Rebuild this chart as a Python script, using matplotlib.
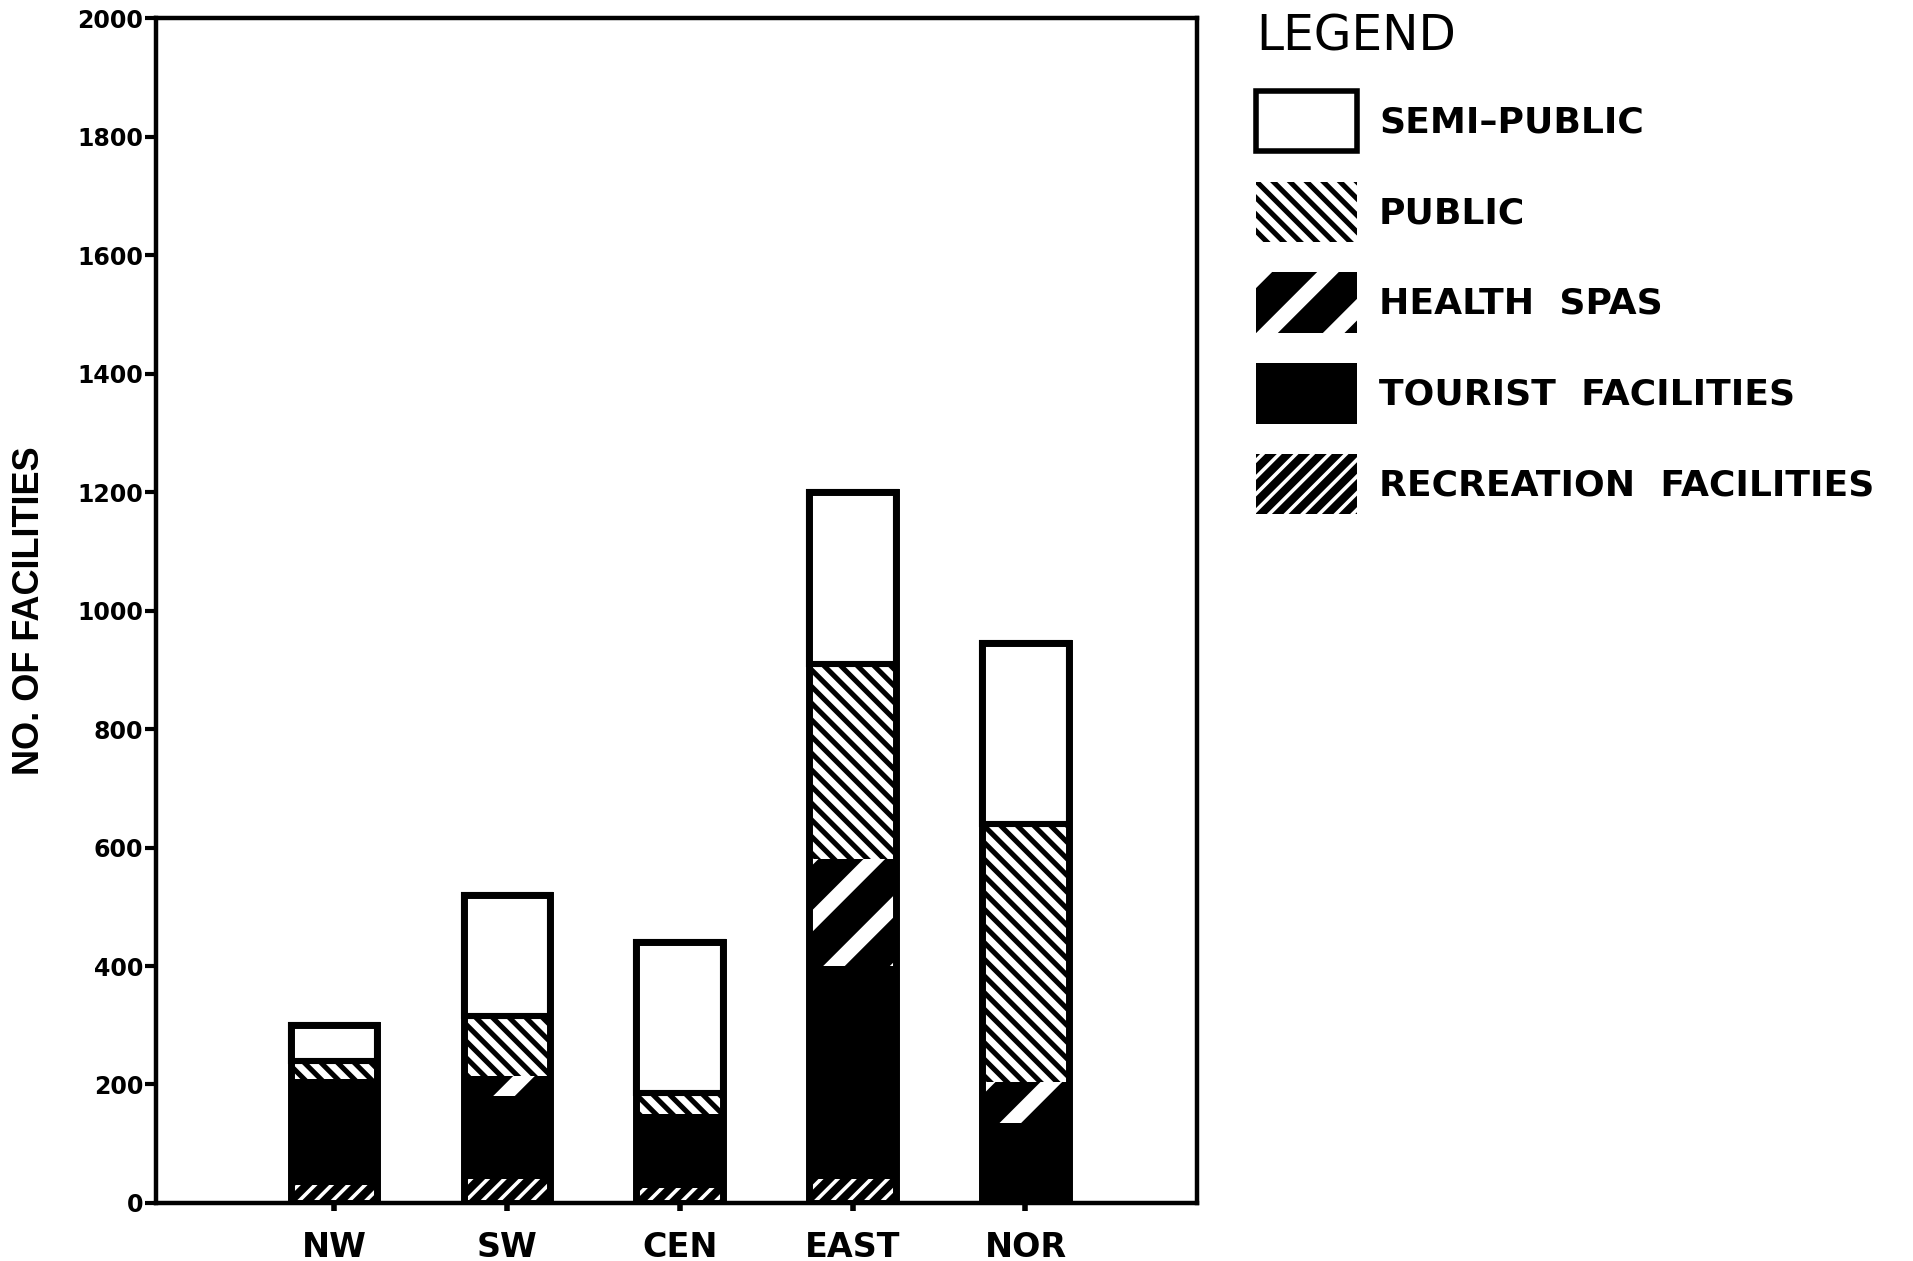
import matplotlib.pyplot as plt
import matplotlib as mpl
import numpy as np

regions = ['NW', 'SW', 'CEN', 'EAST', 'NOR']
recreation = [30, 40, 25, 40, 0]
tourist = [180, 140, 125, 360, 135]
health_spas = [0, 35, 0, 180, 70]
public = [30, 100, 35, 330, 435]
semi_public = [60, 205, 255, 290, 305]

labels = ['RECREATION  FACILITIES', 'TOURIST  FACILITIES', 'HEALTH  SPAS', 'PUBLIC', 'SEMI\u2013PUBLIC']

# figure is 1913x1261 px
fig = plt.figure(figsize=(9.565, 6.305), dpi=200)
ax = fig.add_axes([0.0815, 0.046, 0.544, 0.9397])

x = np.arange(len(regions))
w = 0.5

def set_hlw(p, hlw):
    if hasattr(p, 'set_hatch_linewidth'):
        p.set_hatch_linewidth(hlw)

def hatched(bottom, vals, hatch, hlw):
    with mpl.rc_context({'hatch.linewidth': hlw, 'hatch.color': 'white'}):
        bars = ax.bar(x, vals, w, bottom=bottom, color='black', edgecolor='white',
                      linewidth=0, hatch=hatch)
        for p in bars:
            set_hlw(p, hlw)
    return bars

hlw_rec, hlw_health, hlw_pub = 1.3, 5.5, 2.4

bottom = np.zeros(len(regions))
b_rec = hatched(bottom, recreation, '////', hlw_rec)
bottom += recreation
b_tour = ax.bar(x, tourist, w, bottom=bottom, color='black', linewidth=0)
bottom += tourist
b_health = hatched(bottom, health_spas, '/', hlw_health)
bottom += health_spas
b_pub = hatched(bottom, public, '\\\\\\\\', hlw_pub)
bottom += public
b_semi = ax.bar(x, semi_public, w, bottom=bottom, color='white', edgecolor='black', linewidth=2.2)
bottom += semi_public
# outline of whole bar
ax.bar(x, bottom, w, fill=False, edgecolor='black', linewidth=2.5)

ax.set_xlim(-1.03, 4.99)
ax.set_ylim(0, 2000)
ax.set_yticks(np.arange(0, 2001, 200))
ax.set_xticks(x)
ax.set_xticklabels(regions, fontsize=12, fontweight='bold')
for t in ax.get_yticklabels():
    t.set_fontsize(8.5)
    t.set_fontweight('heavy')
ax.tick_params(axis='y', direction='out', length=4, width=1.5, pad=0.5)
ax.tick_params(axis='x', direction='out', length=3, width=2, pad=7)
for s in ax.spines.values():
    s.set_linewidth(1.6)
ax.set_ylabel('NO. OF FACILITIES', fontsize=13, fontweight='bold',
             family=['Liberation Sans', 'DejaVu Sans'], labelpad=11)

handles = [b_semi[0], b_pub[0], b_health[0], b_tour[0], b_rec[0]]
leg = ax.legend(handles, labels[::-1], loc='upper left', bbox_to_anchor=(1.04, 1.02),
                frameon=False, prop={'size': 13, 'weight': 'bold'},
                handlelength=2.8, handleheight=2.2, labelspacing=0.84, handletextpad=0.6,
                title='LEGEND', title_fontproperties={'size': 17.5}, alignment='left', borderpad=0)
lp = leg.get_patches()
lp[0].set_edgecolor('black')
lp[0].set_linewidth(2)
set_hlw(lp[1], hlw_pub)
set_hlw(lp[2], hlw_health)
set_hlw(lp[4], hlw_rec)

fig.savefig('out.png', dpi=200)
